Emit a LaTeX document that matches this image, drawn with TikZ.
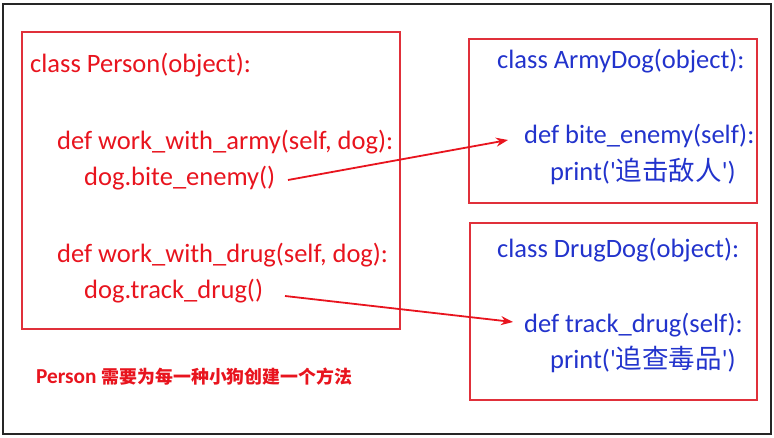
\documentclass[tikz,border=0pt]{standalone}
\usepackage{fontspec}
\setmainfont{Carlito}
\newfontfamily\plainfont{Carlito}
\newfontfamily\cjk{Noto Sans CJK SC}
\usetikzlibrary{arrows.meta}
\definecolor{cred}{HTML}{E8141E}
\definecolor{cblue}{HTML}{2233CC}
\definecolor{bred}{HTML}{E0303A}
\newcommand{\sq}{{\plainfont\char"27}}
\begin{document}
\begin{tikzpicture}[x=1pt,y=-1pt,
  box/.style={draw=bred,line width=1.2pt},
  rt/.style={anchor=base west,inner sep=0pt,text=cred,font=\fontsize{26.5}{30}\selectfont},
  bt/.style={anchor=base west,inner sep=0pt,text=cblue,font=\fontsize{26.5}{30}\selectfont},
  conn/.style={draw=cred,line width=1.8pt,-{Stealth[length=12pt,width=9pt]}}]
\useasboundingbox (0,0) rectangle (774,438);
\draw[line width=1.5pt,black!85] (3,4) rectangle (771,434);
\draw[box] (22,32) rectangle (400,329);
\draw[box] (469,39) rectangle (757,203);
\draw[box] (470,223) rectangle (757,400);
\node[rt] (p1) at (30,73) {class Person(object):};
\node[rt] (p2) at (57,150) {def work\_with\_army(self, dog):};
\node[rt] (p3) at (84,186) {dog.bite\_enemy()};
\node[rt] (p4) at (57,263) {def work\_with\_drug(self, dog):};
\node[rt] (p5) at (84,299) {dog.track\_drug()};
\node[anchor=base west,inner sep=0pt,text=cred,font=\bfseries] (note) at (36,384) {{\fontsize{21.3}{24}\selectfont Person\hspace{5pt}}{\fontsize{17.9}{22}\selectfont\cjk\bfseries 需要为每一种小狗创建一个方法}};
\node[bt] (a1) at (497,69) {class ArmyDog(object):};
\node[bt] (a2) at (524,144) {def bite\_enemy(self):};
\node[bt] (a3) at (550,181) {print(\sq{\cjk 追击敌人}\sq)};
\node[bt] (d1) at (497,258) {class DrugDog(object):};
\node[bt] (d2) at (524,333) {def track\_drug(self):};
\node[bt] (d3) at (550,369) {print(\sq{\cjk 追查毒品}\sq)};
\coordinate (s1) at (288,180);
\coordinate (e1) at (508,140);
\coordinate (s2) at (285,296);
\coordinate (e2) at (513,322);
\draw[conn] (s1) -- (e1);
\draw[conn] (s2) -- (e2);
\end{tikzpicture}
\end{document}
